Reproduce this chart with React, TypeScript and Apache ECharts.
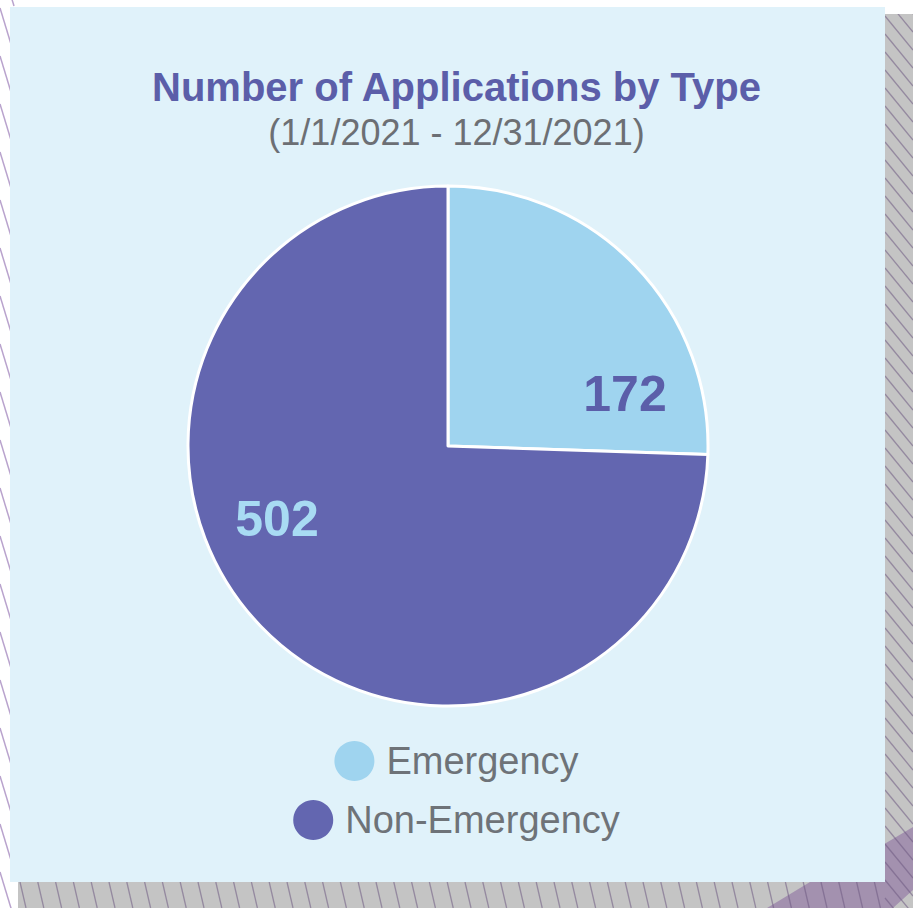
import React, { useEffect, useRef } from "react";
import * as echarts from "echarts";

const CATEGORIES = ["Emergency", "Non-Emergency"];
const VALUES = [172, 502];
const TITLE = "Number of Applications by Type";
const SUBTITLE = "(1/1/2021 - 12/31/2021)";

const SLICE_COLORS = ["#9FD4EF", "#6366B0"];
const LABEL_COLORS = ["#5B5EA9", "#A8DBF3"];
const LABEL_POS = [
  [625, 394],
  [277, 519],
];
const FONT = '"Liberation Sans", Arial, sans-serif';

function buildDecor() {
  const els: any[] = [];
  for (let y0 = -40; y0 < 920; y0 += 48) {
    els.push({
      type: "line",
      shape: { x1: 0, y1: y0, x2: 14, y2: y0 + 46 },
      style: { stroke: "#B9A3CD", lineWidth: 1.5 },
      silent: true,
    });
  }
  els.push({ type: "rect", shape: { x: 885, y: 14, width: 28, height: 894 }, style: { fill: "#C4C4C4" }, silent: true });
  els.push({ type: "rect", shape: { x: 18, y: 882, width: 867, height: 26 }, style: { fill: "#C4C4C4" }, silent: true });
  els.push({
    type: "polygon",
    shape: { points: [[767, 908], [810, 882], [886, 843], [913, 827], [913, 890], [893, 908]] },
    style: { fill: "rgba(125,85,150,0.45)" },
    silent: true,
  });
  for (let y0 = -20; y0 < 920; y0 += 18) {
    els.push({
      type: "line",
      shape: { x1: 885, y1: y0, x2: 913, y2: y0 + 34 },
      style: { stroke: "rgba(110,90,130,0.55)", lineWidth: 1.3 },
      silent: true,
    });
  }
  for (let x0 = 20; x0 < 885; x0 += 17.8) {
    els.push({
      type: "line",
      shape: { x1: x0, y1: 882, x2: x0 + 6, y2: 908 },
      style: { stroke: "rgba(110,90,130,0.55)", lineWidth: 1.3 },
      silent: true,
    });
  }
  els.push({ type: "rect", shape: { x: 885, y: 0, width: 28, height: 14 }, style: { fill: "#FFFFFF" }, silent: true });
  els.push({ type: "rect", shape: { x: 10, y: 7, width: 875, height: 875 }, style: { fill: "#E0F2FA" }, silent: true });
  return els;
}

function legendFor(name: string, top: number) {
  return {
    data: [name],
    left: "center",
    top,
    icon: "circle",
    itemWidth: 40,
    itemHeight: 40,
    selectedMode: false,
    itemStyle: { borderWidth: 0 },
    textStyle: { fontSize: 38, color: "#6E7378", fontFamily: FONT, padding: [0, 0, 0, 7] },
  };
}

export default function App() {
  const ref = useRef<HTMLDivElement>(null);
  useEffect(() => {
    if (!ref.current) return;
    const chart = echarts.init(ref.current, undefined, { renderer: "svg" });
    const data = CATEGORIES.map((name, i) => ({
      name,
      value: VALUES[i],
      itemStyle: { color: SLICE_COLORS[i] },
      label: { color: LABEL_COLORS[i] },
    }));
    chart.setOption({
      animation: false,
      backgroundColor: "#FFFFFF",
      graphic: buildDecor(),
      title: [
        {
          text: TITLE,
          left: "center",
          top: 62,
          textStyle: { fontSize: 40, fontWeight: "bold", color: "#5B5EA9", fontFamily: FONT },
        },
        {
          text: SUBTITLE,
          left: "center",
          top: 109,
          textStyle: { fontSize: 36, fontWeight: "normal", color: "#6C6F74", fontFamily: FONT },
        },
      ],
      legend: [legendFor(CATEGORIES[0], 736), legendFor(CATEGORIES[1], 795)],
      series: [
        {
          type: "pie",
          center: [448, 446],
          radius: 260,
          startAngle: 90,
          clockwise: true,
          silent: true,
          itemStyle: { borderColor: "#FFFFFF", borderWidth: 3 },
          label: {
            show: true,
            position: "inside",
            formatter: "{c}",
            fontSize: 50,
            fontWeight: "bold",
            fontFamily: FONT,
          },
          labelLine: { show: false },
          labelLayout: (p: any) => ({
            x: LABEL_POS[p.dataIndex][0],
            y: LABEL_POS[p.dataIndex][1],
            align: "center",
            verticalAlign: "middle",
          }),
          data,
        },
      ],
    });
    return () => chart.dispose();
  }, []);
  return (
    <div
      ref={ref}
      style={{ position: "absolute", left: 0, top: 0, width: 913, height: 908 }}
    />
  );
}
